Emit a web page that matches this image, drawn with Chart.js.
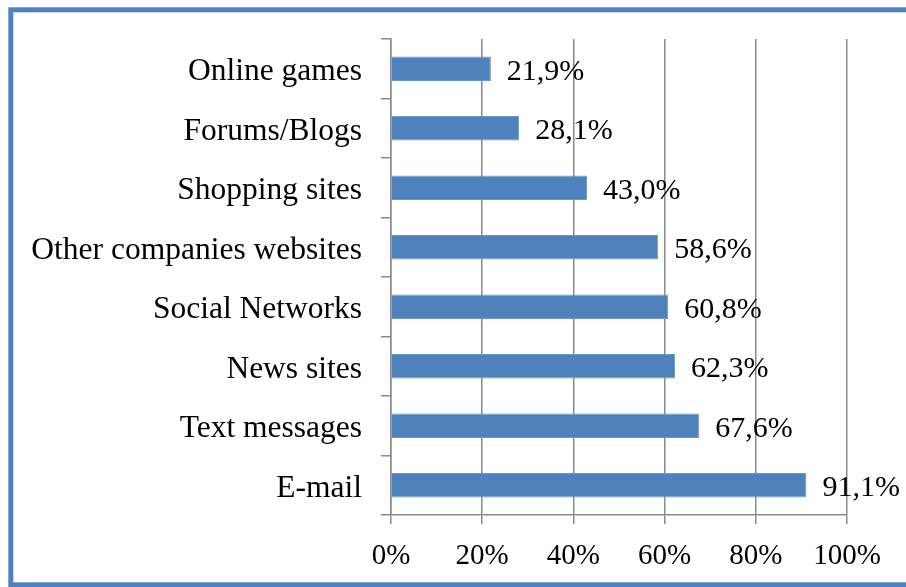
<!DOCTYPE html>
<html lang="en">
<head>
    <meta charset="UTF-8">
    <title>Online activities</title>
    <script src="https://cdn.jsdelivr.net/npm/chart.js"></script>
    <style>
        html, body { margin: 0; padding: 0; background: #fff; }
        #wrap { width: 906px; height: 587px; }
    </style>
</head>
<body>
    <div id="wrap"><canvas id="myChart" width="906" height="587"></canvas></div>
    <script>
        const categories = ['Online games', 'Forums/Blogs', 'Shopping sites', 'Other companies websites',
            'Social Networks', 'News sites', 'Text messages', 'E-mail'];
        const shares = [21.9, 28.1, 43.0, 58.6, 60.8, 62.3, 67.6, 91.1];
        const xTicks = [0, 20, 40, 60, 80, 100];

        const serif = "'Liberation Serif', 'Times New Roman', serif";
        const gridGray = '#8a8a8a';

        // blue frame around the whole picture
        const framePlugin = {
            id: 'frame',
            beforeDraw(chart) {
                const c = chart.ctx;
                c.save();
                c.fillStyle = '#fff';
                c.fillRect(0, 0, chart.width, chart.height);
                c.strokeStyle = '#4F81BD';
                c.lineWidth = 5;
                c.strokeRect(10.8, 9.8, chart.width + 20, chart.height - 12);
                c.restore();
            }
        };

        // value text after each bar, with decimal comma
        const valueLabels = {
            id: 'valueLabels',
            afterDatasetsDraw(chart) {
                const c = chart.ctx;
                const meta = chart.getDatasetMeta(0);
                c.save();
                c.font = '30px ' + serif;
                c.fillStyle = '#000';
                c.textAlign = 'left';
                c.textBaseline = 'middle';
                meta.data.forEach((bar, i) => {
                    const txt = shares[i].toFixed(1).replace('.', ',') + '%';
                    c.fillText(txt, bar.x + 16, bar.y + 3);
                });
                c.restore();
            }
        };

        const ctx = document.getElementById('myChart').getContext('2d');
        const myChart = new Chart(ctx, {
            type: 'bar',
            data: {
                labels: categories,
                datasets: [{
                    data: shares,
                    backgroundColor: '#4F81BD',
                    borderColor: '#6b96cb',
                    borderWidth: 1,
                    barPercentage: 0.41,
                    categoryPercentage: 1.0
                }]
            },
            options: {
                indexAxis: 'y',
                responsive: false,
                animation: false,
                layout: { padding: { top: 39, right: 59, bottom: 0, left: 0 } },
                plugins: {
                    legend: { display: false },
                    tooltip: { enabled: false }
                },
                scales: {
                    x: {
                        min: 0,
                        max: 100,
                        afterBuildTicks(scale) {
                            scale.ticks = xTicks.map(v => ({ value: v }));
                        },
                        afterFit(scale) { scale.height = 72; },
                        grid: {
                            color: gridGray,
                            lineWidth: 1.5,
                            tickLength: 9
                        },
                        border: { color: gridGray, width: 1.5 },
                        ticks: {
                            color: '#000',
                            font: { family: serif, size: 29 },
                            padding: 15,
                            maxRotation: 0,
                            callback: v => v + '%'
                        }
                    },
                    y: {
                        afterFit(scale) { scale.width = 391; },
                        grid: {
                            drawOnChartArea: false,
                            color: gridGray,
                            lineWidth: 1.5,
                            tickLength: 10,
                            offset: true
                        },
                        border: { color: gridGray, width: 1.5 },
                        ticks: {
                            color: '#000',
                            font: { family: serif, size: 31.5 },
                            padding: 19,
                            labelOffset: 3
                        }
                    }
                }
            },
            plugins: [framePlugin, valueLabels]
        });
    </script>
</body>
</html>
